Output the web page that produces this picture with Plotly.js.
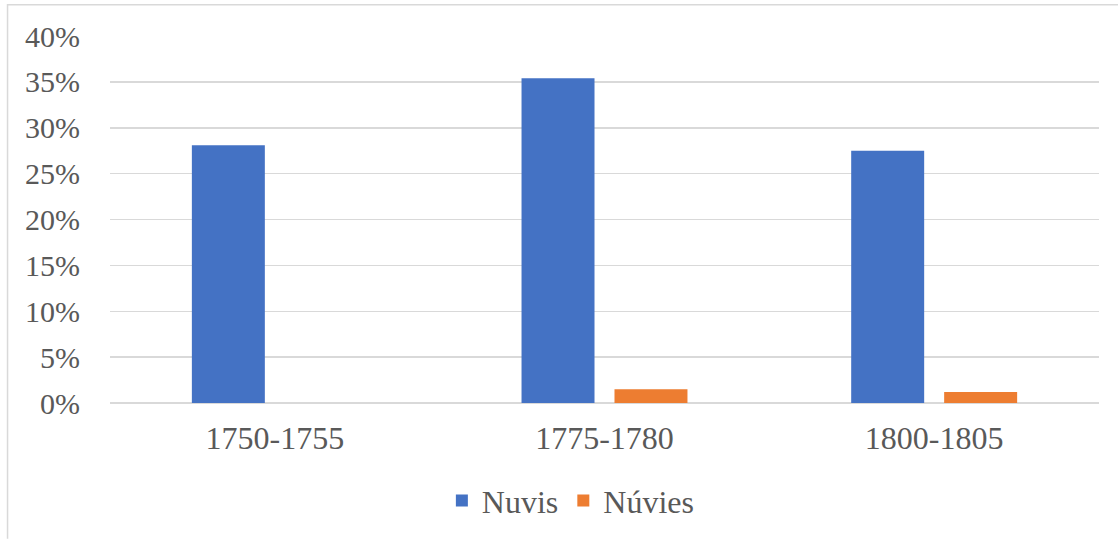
<!DOCTYPE html>
<html>
<head>
<meta charset="utf-8">
<script src="https://cdn.plot.ly/plotly-3.0.1.min.js"></script>
<style>
  html, body { margin: 0; padding: 0; background: #ffffff; }
  #chart { width: 1118px; height: 540px; }
</style>
</head>
<body>
<div id="chart"></div>
<script>
const categories = ['1750-1755', '1775-1780', '1800-1805'];
const nuvis = [0.281, 0.354, 0.275];
const nuvies = [0.0, 0.015, 0.012];
const seriesNames = ['Nuvis', 'Núvies'];
const tickVals = [0, 0.05, 0.10, 0.15, 0.20, 0.25, 0.30, 0.35, 0.40];

const fontFam = '"Liberation Serif", "Times New Roman", serif';

const traces = [
  { type: 'bar', name: seriesNames[0], x: categories, y: nuvis,
    marker: { color: '#4472C4' }, hoverinfo: 'x+y' },
  { type: 'bar', name: seriesNames[1], x: categories, y: nuvies,
    marker: { color: '#ED7D31' }, hoverinfo: 'x+y' }
];

const layout = {
  width: 1118, height: 540,
  margin: { l: 110, r: 19, t: 36, b: 135 },
  paper_bgcolor: '#ffffff', plot_bgcolor: '#ffffff',
  barmode: 'group', bargap: 0.436, bargroupgap: 0.215,
  font: { family: fontFam, color: '#595959', size: 31 },
  showlegend: true,
  legend: { orientation: 'h', x: 0.466, xanchor: 'center', y: -0.266, yanchor: 'middle',
            font: { family: fontFam, size: 32, color: '#595959' }, itemwidth: 30,
            traceorder: 'normal' },
  xaxis: { type: 'category', showgrid: false, showline: false, zeroline: false,
           ticks: '', ticklabelstandoff: 13,
           tickfont: { family: fontFam, size: 32, color: '#595959' } },
  yaxis: { range: [0, 0.4], tickvals: tickVals, tickformat: '.0%',
           showgrid: true, gridcolor: '#d9d9d9', gridwidth: 1.5,
           zeroline: true, zerolinecolor: '#d9d9d9', zerolinewidth: 1.5,
           showline: false, ticks: '', ticklabelstandoff: 29,
           tickfont: { family: fontFam, size: 30, color: '#595959' } },
  shapes: [
    { type: 'path', xref: 'paper', yref: 'paper',
      path: 'M -0.1036,-0.37 L -0.1036,1.0854 L 1.05,1.0854',
      line: { color: '#d9d9d9', width: 1.5 } }
  ]
};

Plotly.newPlot('chart', traces, layout, { displayModeBar: false, staticPlot: true });
</script>
</body>
</html>
